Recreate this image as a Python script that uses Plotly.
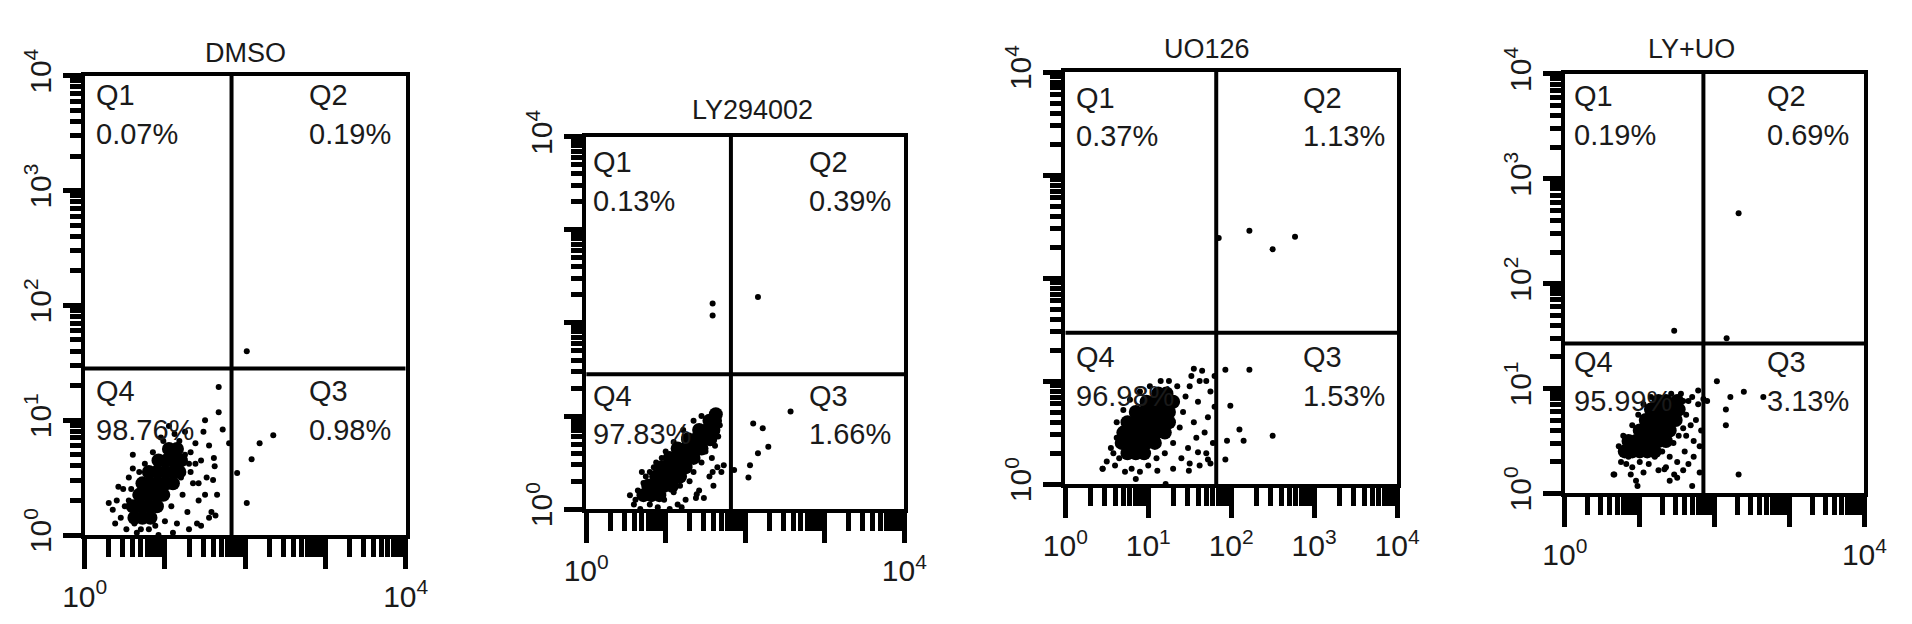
import plotly.graph_objects as go

# ---------------- data (log10 units of fluorescence) ----------------
titles = ["DMSO", "LY294002", "UO126", "LY+UO"]
q1_pct = ["0.07%", "0.13%", "0.37%", "0.19%"]
q2_pct = ["0.19%", "0.39%", "1.13%", "0.69%"]
q3_pct = ["0.98%", "1.66%", "1.53%", "3.13%"]
q4_pct = ["98.76%", "97.83%", "96.98%", "95.99%"]

gate_x = [1.83, 1.82, 1.82, 1.85]
gate_y = [1.45, 1.45, 1.47, 1.43]

decades = [0, 1, 2, 3, 4]
tick_full = ["10<sup>0</sup>", "10<sup>1</sup>", "10<sup>2</sup>", "10<sup>3</sup>", "10<sup>4</sup>"]
tick_ends = ["10<sup>0</sup>", "", "", "", "10<sup>4</sup>"]

# Panel 1 (DMSO)
dmso_core_x = [0.62, 0.72, 0.82, 0.60, 0.70, 0.80, 0.90, 0.68, 0.78, 0.88, 0.98,
               0.72, 0.82, 0.92, 1.02, 1.10, 0.80, 0.90, 1.00, 1.10, 1.18,
               0.92, 1.02, 1.12, 1.20, 1.05, 1.15]
dmso_core_y = [0.15, 0.15, 0.15, 0.25, 0.25, 0.25, 0.25, 0.35, 0.35, 0.35, 0.35,
               0.45, 0.45, 0.45, 0.45, 0.45, 0.55, 0.55, 0.55, 0.55, 0.55,
               0.65, 0.65, 0.65, 0.65, 0.75, 0.75]
dmso_dot_x = [0.35, 0.40, 0.45, 0.48, 0.52, 0.55, 0.60, 0.65, 0.75, 0.80, 0.85, 0.92,
              0.98, 1.00, 1.08, 1.12, 1.15, 1.22, 1.25, 1.28, 1.30, 1.35, 1.38, 1.42,
              1.45, 1.48, 1.52, 1.55, 1.58, 1.62, 1.65, 1.40, 1.30, 0.50, 0.58, 1.20,
              0.30, 0.38, 0.42, 0.55, 0.60, 0.68, 0.70, 0.88, 0.95, 1.05, 1.18, 1.25,
              1.32, 1.38, 1.42, 1.50, 1.55, 1.60, 1.50, 1.45, 1.10, 0.62, 1.32,
              2.02, 1.67, 1.67, 1.72, 1.80, 2.35, 2.18, 2.08, 2.02, 1.90, 1.63, 1.61]
dmso_dot_y = [0.22, 0.30, 0.15, 0.40, 0.05, 0.50, 0.58, 0.02, 0.62, 0.05, 0.72, 0.00,
              0.82, 0.12, 0.25, 0.88, 0.10, 0.35, 0.90, 0.20, 0.62, 0.45, 0.80, 0.30,
              0.65, 0.90, 0.50, 0.78, 0.20, 0.60, 0.35, 0.10, 0.05, 0.25, 0.40, 0.50,
              0.28, 0.10, 0.42, 0.30, 0.70, 0.55, 0.05, 0.08, 0.85, 0.95, 0.82, 0.70,
              0.55, 0.62, 0.45, 0.35, 0.15, 0.48, 1.00, 0.08, 0.02, 0.10, 0.72,
              1.60, 1.29, 1.07, 0.92, 0.80, 0.87, 0.80, 0.66, 0.28, 0.54, 0.17, 0.67]

# Panel 2 (LY294002)
ly_core_x = [0.72, 0.82, 0.92, 0.78, 0.88, 0.98, 1.08, 0.88, 0.98, 1.08, 1.18,
             0.95, 1.05, 1.15, 1.25, 1.05, 1.15, 1.25, 1.35, 1.15, 1.25, 1.35, 1.45,
             1.28, 1.38, 1.48, 1.56, 1.42, 1.52, 1.60, 1.55, 1.62, 1.63]
ly_core_y = [0.15, 0.15, 0.15, 0.25, 0.25, 0.25, 0.25, 0.35, 0.35, 0.35, 0.35,
             0.45, 0.45, 0.45, 0.45, 0.55, 0.55, 0.55, 0.55, 0.65, 0.65, 0.65, 0.65,
             0.75, 0.75, 0.75, 0.75, 0.85, 0.85, 0.85, 0.95, 0.95, 1.02]
ly_dot_x = [0.60, 0.65, 0.68, 0.75, 0.80, 0.85, 0.90, 0.98, 1.05, 1.10, 1.18, 1.25,
            1.30, 1.35, 1.42, 1.45, 1.50, 1.58, 1.62, 1.66, 1.65, 0.55, 0.70, 0.95,
            1.38, 1.15,
            0.62, 0.72, 0.80, 0.88, 1.00, 1.10, 1.22, 1.35, 1.45, 1.55, 1.60, 1.48,
            1.20, 0.78, 1.68, 1.70,
            1.59, 1.59, 2.16, 2.57, 2.10, 2.22, 2.29, 2.16, 2.06, 2.04, 1.86, 1.73,
            1.59, 1.39]
ly_dot_y = [0.05, 0.20, 0.00, 0.35, 0.05, 0.45, 0.02, 0.10, 0.00, 0.18, 0.25, 0.10,
            0.30, 0.40, 0.20, 0.50, 0.62, 0.55, 0.68, 0.78, 0.45, 0.15, 0.40, 0.55,
            0.12, 0.05,
            0.10, 0.28, 0.40, 0.50, 0.62, 0.72, 0.85, 0.95, 1.00, 0.35, 0.25, 0.12,
            0.02, 0.12, 0.90, 0.40,
            2.21, 2.08, 2.28, 1.05, 0.92, 0.87, 0.67, 0.60, 0.47, 0.34, 0.42, 0.47,
            0.40, 0.16]

# Panel 3 (UO126)
uo_core_x = [0.75, 0.85, 0.95, 0.68, 0.78, 0.88, 0.98, 1.08,
             0.70, 0.80, 0.90, 1.00, 1.10, 1.20, 0.75, 0.85, 0.95, 1.05, 1.15, 1.25,
             0.85, 0.95, 1.05, 1.15, 1.25, 0.98, 1.08, 1.18, 1.30, 1.12, 1.22]
uo_core_y = [0.30, 0.30, 0.30, 0.40, 0.40, 0.40, 0.40, 0.40,
             0.50, 0.50, 0.50, 0.50, 0.50, 0.50, 0.60, 0.60, 0.60, 0.60, 0.60, 0.60,
             0.70, 0.70, 0.70, 0.70, 0.70, 0.80, 0.80, 0.80, 0.80, 0.88, 0.88]
uo_dot_x = [0.45, 0.50, 0.55, 0.60, 0.65, 0.72, 0.80, 0.90, 1.00, 1.10, 1.20, 1.30,
            1.38, 1.42, 1.45, 1.50, 1.55, 1.60, 1.62, 1.65, 1.68, 1.72, 1.75, 1.78,
            1.80, 1.58, 1.48, 1.35, 1.25, 1.52, 0.62, 1.70,
            0.58, 0.62, 0.70, 0.78, 0.90, 1.02, 1.15, 1.40, 1.50, 1.62, 1.75, 1.80,
            1.70, 1.55, 1.30, 0.85,
            1.85, 2.22, 2.50, 2.77, 1.93, 2.22, 1.99, 2.10, 1.95, 2.15, 2.50, 1.93,
            1.49, 1.60, 1.72, 1.11, 0.45, 1.21]
uo_dot_y = [0.15, 0.22, 0.35, 0.18, 0.25, 0.12, 0.15, 0.12, 0.18, 0.25, 0.30, 0.40,
            0.55, 0.70, 0.85, 0.95, 0.60, 0.80, 1.00, 1.10, 0.50, 0.65, 0.90, 0.40,
            0.75, 0.45, 0.35, 0.95, 1.00, 1.05, 0.45, 0.30,
            0.30, 0.60, 0.72, 0.82, 0.90, 0.95, 1.00, 0.25, 0.20, 0.18, 0.20, 1.05,
            1.00, 1.12, 0.15, 0.05,
            2.39, 2.46, 2.28, 2.40, 1.11, 1.11, 0.76, 0.53, 0.42, 0.42, 0.47, 0.24,
            0.13, 0.31, 0.24, 0.13, 0.15, 0.00]

# Panel 4 (LY+UO)
lyuo_core_x = [0.80, 0.90, 1.00, 1.10, 1.20, 0.85, 0.95, 1.05, 1.15, 1.25, 1.35,
               1.00, 1.10, 1.20, 1.30, 1.40, 1.08, 1.18, 1.28, 1.38, 1.48,
               1.15, 1.25, 1.35, 1.45, 1.52, 1.25, 1.35, 1.50]
lyuo_core_y = [0.40, 0.40, 0.40, 0.40, 0.40, 0.50, 0.50, 0.50, 0.50, 0.50, 0.50,
               0.60, 0.60, 0.60, 0.60, 0.60, 0.70, 0.70, 0.70, 0.70, 0.70,
               0.80, 0.80, 0.80, 0.80, 0.80, 0.88, 0.88, 0.88]
lyuo_dot_x = [0.65, 0.75, 0.82, 0.90, 1.00, 1.05, 1.12, 1.20, 1.30, 1.35, 1.40, 1.45,
              1.52, 1.58, 1.60, 1.62, 1.65, 1.70, 1.72, 1.75, 1.78, 1.82, 1.85, 1.55,
              1.42, 1.50, 1.58, 1.65, 1.15, 0.85,
              0.72, 0.78, 0.90, 0.98, 1.05, 1.58, 1.62, 1.68, 1.72, 1.80, 1.80, 1.50,
              1.25, 0.95, 1.40, 1.78,
              2.32, 1.46, 2.16, 2.03, 2.21, 2.39, 2.65, 2.15, 2.15, 1.90, 2.32, 1.70,
              1.46, 0.97, 0.66, 0.88, 1.33]
lyuo_dot_y = [0.18, 0.30, 0.28, 0.25, 0.30, 0.20, 0.28, 0.35, 0.40, 0.25, 0.35, 0.48,
              0.55, 0.62, 0.40, 0.75, 0.88, 0.92, 0.50, 0.70, 0.85, 0.60, 0.90, 0.95,
              0.95, 0.30, 0.22, 0.28, 0.92, 0.35,
              0.45, 0.55, 0.65, 0.75, 0.85, 0.88, 0.55, 0.65, 0.35, 0.45, 0.20, 0.15,
              0.22, 0.12, 0.12, 0.98,
              2.67, 1.55, 1.48, 1.07, 0.92, 0.97, 0.92, 0.80, 0.65, 0.88, 0.18, 0.07,
              0.18, 0.07, 0.18, 0.18, 0.23]

core_x = [dmso_core_x, ly_core_x, uo_core_x, lyuo_core_x]
core_y = [dmso_core_y, ly_core_y, uo_core_y, lyuo_core_y]
dot_x = [dmso_dot_x, ly_dot_x, uo_dot_x, lyuo_dot_x]
dot_y = [dmso_dot_y, ly_dot_y, uo_dot_y, lyuo_dot_y]

# ---------------- layout geometry ----------------
# Target screen is 1912x624; the page body has a default 8 px margin, so the
# figure is 16 px smaller and every screen position is shifted by that margin.
SCREEN_W, SCREEN_H, PAGE_MARGIN = 1912, 624, 8
W, H = SCREEN_W - 2 * PAGE_MARGIN, SCREEN_H - 2 * PAGE_MARGIN


def fx(px):
    return (px - PAGE_MARGIN) / W


def fy(py):
    return 1 - (py - PAGE_MARGIN) / H


# panel frames in screen pixels: (left, right, top, bottom)
frames = [(63, 392, 52, 548), (577, 903, 118, 520), (1068, 1408, 48, 493), (1580, 1887, 50, 503)]
title_pos = [(228, 27), (747, 89), (1213, 23), (1710, 23)]
ylabels = [tick_full, tick_ends, tick_ends, tick_full]
xlabels = [tick_ends, tick_ends, tick_full, tick_ends]
# text positions in domain fractions: (left x, right x, top Q y, top pct y, bottom Q y, bottom pct y)
txt = [(0.03, 0.694, 0.959, 0.874, 0.313, 0.228),
       (0.015, 0.693, 0.933, 0.828, 0.304, 0.202),
       (0.026, 0.712, 0.938, 0.844, 0.309, 0.215),
       (0.023, 0.668, 0.947, 0.855, 0.313, 0.221)]

FONT = "Liberation Sans, Arial, sans-serif"
INK = "#1a1a1a"

fig = go.Figure()
annotations = []
for i in range(4):
    k = "" if i == 0 else str(i + 1)
    xa, ya = "x" + k, "y" + k
    fig.add_trace(go.Scatter(
        x=[10 ** v for v in core_x[i]], y=[10 ** v for v in core_y[i]],
        mode="markers", marker=dict(color="black", size=14, symbol="circle"),
        xaxis=xa, yaxis=ya, showlegend=False, hoverinfo="skip"))
    fig.add_trace(go.Scatter(
        x=[10 ** v for v in dot_x[i]], y=[10 ** v for v in dot_y[i]],
        mode="markers", marker=dict(color="black", size=6, symbol="circle"),
        xaxis=xa, yaxis=ya, showlegend=False, hoverinfo="skip"))
    gx, gy = 10 ** gate_x[i], 10 ** gate_y[i]
    fig.add_trace(go.Scatter(x=[gx, gx], y=[1, 10 ** 4], mode="lines",
                             line=dict(color="black", width=4),
                             xaxis=xa, yaxis=ya, showlegend=False, hoverinfo="skip"))
    fig.add_trace(go.Scatter(x=[1, 10 ** 4], y=[gy, gy], mode="lines",
                             line=dict(color="black", width=4),
                             xaxis=xa, yaxis=ya, showlegend=False, hoverinfo="skip"))

    l, r, t, b = frames[i]
    common = dict(type="log", range=[0, 4], showgrid=False, zeroline=False,
                  showline=True, linecolor="black", linewidth=4, mirror=True,
                  ticks="outside", tickwidth=5, tickcolor="black",
                  tickmode="array", tickvals=[10 ** d for d in decades],
                  tickfont=dict(family=FONT, size=30, color=INK))
    fig.layout["xaxis" + k] = dict(common, domain=[fx(l), fx(r)], anchor=ya,
                                   ticklen=30, ticktext=xlabels[i], ticklabelstandoff=2,
                                   minor=dict(ticks="outside", ticklen=18, tickwidth=5,
                                              tickcolor="black", dtick="D1"))
    fig.layout["yaxis" + k] = dict(common, domain=[fy(b), fy(t)], anchor=xa,
                                   ticklen=18, ticktext=ylabels[i], tickangle=-90,
                                   ticklabelstandoff=0,
                                   minor=dict(ticks="outside", ticklen=11, tickwidth=5,
                                              tickcolor="black", dtick="D1"))

    tx, ty = title_pos[i]
    annotations.append(dict(text=titles[i], x=fx(tx), y=fy(ty), xref="paper", yref="paper",
                            xanchor="center", yanchor="middle", showarrow=False,
                            font=dict(family=FONT, size=27, color=INK)))
    lx, rx, qy, py, qby, pby = txt[i]
    for text, x, y in [("Q1", lx, qy), (q1_pct[i], lx, py), ("Q2", rx, qy), (q2_pct[i], rx, py),
                       ("Q4", lx, qby), (q4_pct[i], lx, pby), ("Q3", rx, qby), (q3_pct[i], rx, pby)]:
        annotations.append(dict(text=text, x=x, y=y, xref=xa + " domain", yref=ya + " domain",
                                xanchor="left", yanchor="middle", showarrow=False,
                                font=dict(family=FONT, size=29, color=INK)))

fig.update_layout(width=W, height=H, margin=dict(l=0, r=0, t=0, b=0),
                  paper_bgcolor="white", plot_bgcolor="white",
                  annotations=annotations)
fig.write_html("out.html")
